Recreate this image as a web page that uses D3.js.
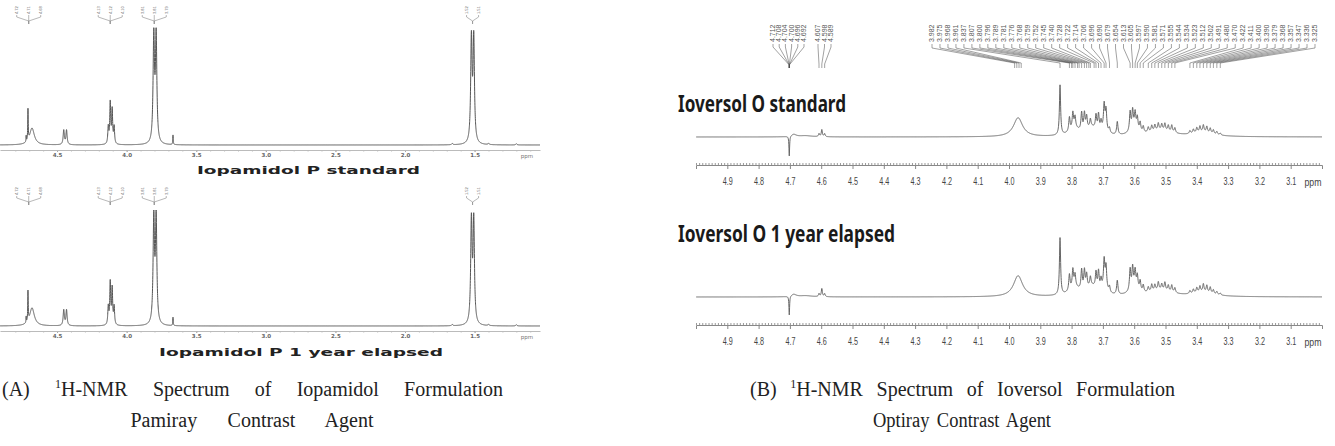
<!DOCTYPE html>
<html lang="en">
<head>
<meta charset="UTF-8">
<title>1H-NMR Spectra of Contrast Agent Formulations</title>
<script src="https://d3js.org/d3.v7.min.js"></script>
<style>
  body { margin: 0; background: #fff; }
  svg { display: block; }
  .cap { font-family: "Liberation Serif", serif; font-size: 20px; fill: #222; }
</style>
</head>
<body>
<div id="chart"></div>
<script>
// ---- Panel A: Iopamidol (Pamiray) - peak shift (ppm), height (% of tallest), width (ppm)
const iopShift = [4.722, 4.709, 4.680, 4.452, 4.432, 4.132, 4.118, 4.104, 4.090, 3.805, 3.788, 3.667, 1.660, 1.523, 1.506, 1.400, 1.200];
const iopStdH  = [5, 26, 14, 12, 12, 14, 34, 28, 14, 88, 88, 8, 1, 86, 86, 1, 1];
const iopAgedH = [5, 25, 15, 13, 13, 15, 35, 30, 15, 87, 87, 7, 1, 85, 85, 1, 1];
const iopWidth = [0.003, 0.004, 0.04, 0.01, 0.01, 0.008, 0.008, 0.008, 0.008, 0.012, 0.012, 0.004, 0.01, 0.012, 0.012, 0.01, 0.01];
const iopPicks = [[4.722, 4.709, 4.680], [4.132, 4.118, 4.104], [3.812, 3.805, 3.788], [1.523, 1.506]];
const aTicks = [4.5, 4.0, 3.5, 3.0, 2.5, 2.0, 1.5];
const aTitles = ["Iopamidol P standard", "Iopamidol P 1 year elapsed"];

// ---- Panel B: Ioversol (Optiray) - peak shift (ppm), height (px), width (ppm)
const ioShift = [4.702, 4.688, 4.650, 4.607, 4.598, 4.589,
  3.971, 3.837,
  3.790, 3.735, 3.695, 3.600, 3.515, 3.380,
  3.807, 3.796, 3.789, 3.768, 3.759, 3.752, 3.740, 3.722, 3.714, 3.706, 3.696, 3.690, 3.679, 3.654,
  3.613, 3.605, 3.597, 3.590, 3.581, 3.571,
  3.555, 3.544, 3.534, 3.523, 3.512, 3.502, 3.491, 3.480, 3.470,
  3.422, 3.411, 3.400, 3.390, 3.379, 3.368, 3.357, 3.347, 3.336, 3.325];
const ioStdH = [-20, 2.5, 1.2, 3, 7, 3,
  19, 50,
  7, 8, 5, 7, 6, 4,
  14, 16, 11, 18, 17, 13, 8, 14, 16, 9, 24, 20, 5, 13,
  19, 18, 15, 12, 9, 6,
  5, 6, 6, 7, 6, 7, 6, 7, 5,
  3, 4, 5, 6, 7, 6, 5, 4, 3, 2];
const ioAgedH = [-19, 2.5, 1.2, 3, 8, 3,
  21, 57,
  8, 9, 6, 8, 6, 4,
  16, 18, 12, 20, 19, 14, 9, 16, 18, 10, 27, 22, 6, 14,
  21, 20, 16, 13, 10, 7,
  5, 7, 6, 8, 6, 8, 6, 7, 5,
  3, 4, 5, 6, 8, 7, 6, 4, 3, 2];
const ioWidth = [0.0025, 0.02, 0.05, 0.004, 0.004, 0.004,
  0.035, 0.0045,
  0.04, 0.04, 0.02, 0.03, 0.09, 0.08,
  0.005, 0.005, 0.005, 0.005, 0.005, 0.005, 0.005, 0.005, 0.005, 0.005, 0.005, 0.005, 0.005, 0.005,
  0.005, 0.005, 0.005, 0.005, 0.005, 0.005,
  0.005, 0.005, 0.005, 0.005, 0.005, 0.005, 0.005, 0.005, 0.005,
  0.005, 0.005, 0.005, 0.005, 0.005, 0.005, 0.005, 0.005, 0.005, 0.005];
const ioPicksLeft = [4.712, 4.708, 4.704, 4.700, 4.696, 4.692];
const ioPicksMid = [4.607, 4.598, 4.589];
const ioPicksRight = [3.982, 3.975, 3.968, 3.961, 3.837, 3.807, 3.800, 3.796, 3.789, 3.781, 3.776, 3.768,
  3.759, 3.752, 3.745, 3.740, 3.728, 3.722, 3.714, 3.706, 3.696, 3.690, 3.679, 3.654, 3.613, 3.605,
  3.597, 3.590, 3.581, 3.571, 3.555, 3.544, 3.534, 3.523, 3.512, 3.502, 3.491, 3.480, 3.470, 3.422,
  3.411, 3.400, 3.390, 3.379, 3.368, 3.357, 3.347, 3.336, 3.325];
const bTicks = [4.9, 4.8, 4.7, 4.6, 4.5, 4.4, 4.3, 4.2, 4.1, 4.0, 3.9, 3.8, 3.7, 3.6, 3.5, 3.4, 3.3, 3.2, 3.1];
const bTitles = ["Ioversol O standard", "Ioversol O 1 year elapsed"];

const captions = [
  ["(A) ", "H-NMR Spectrum of Iopamidol Formulation", "Pamiray Contrast Agent"],
  ["(B) ", "H-NMR Spectrum of Ioversol Formulation", "Optiray Contrast Agent"]
];

const width = 1335, height = 446;
const svg = d3.select("#chart").append("svg")
  .attr("width", width).attr("height", height);

// lorentzian line shape sampled over the axis range
function spectrum(shift, heights, widths, lo, hi, step) {
  return d3.range(lo, hi, step).map(p => {
    let v = 0;
    for (let i = 0; i < shift.length; i++) {
      const t = (p - shift[i]) / (widths[i] / 2);
      v += heights[i] / (1 + t * t);
    }
    return [p, v];
  });
}

// ================= Panel A =================
const xA = d3.scaleLinear().domain([4.91, 1.03]).range([0, 540]);
const panelsA = [
  { h: iopStdH, base: 145, title: aTitles[0], tx: 197, tw: 223, ty: 174 },
  { h: iopAgedH, base: 326, title: aTitles[1], tx: 159, tw: 284, ty: 356 }
];

panelsA.forEach(p => {
  const y = d3.scaleLinear().domain([0, 100]).range([p.base, p.base - 120]);
  const g = svg.append("g");
  const off = p.base - 145;

  // axis under the trace
  const axis = d3.axisBottom(xA).tickValues(aTicks).tickSize(2).tickSizeOuter(0)
    .tickFormat(d3.format(".1f"));
  const ax = g.append("g").attr("transform", `translate(0,${p.base + 5})`).call(axis);
  ax.select(".domain").attr("stroke", "#bbb");
  ax.selectAll(".tick line").attr("stroke", "#999");
  ax.selectAll(".tick text").attr("font-size", 5.5).attr("font-weight", "bold")
    .attr("font-family", "DejaVu Sans, sans-serif").attr("fill", "#666").attr("dy", "0.4em");
  const minor = d3.axisBottom(xA).tickValues(d3.range(1.1, 4.9, 0.1)).tickSize(1.5).tickFormat("");
  g.append("g").attr("transform", `translate(0,${p.base + 5})`).call(minor)
    .call(s => s.select(".domain").remove())
    .selectAll("line").attr("stroke", "#bbb");
  g.append("text").attr("x", 527).attr("y", p.base + 13).attr("text-anchor", "middle")
    .attr("font-size", 5.5).attr("font-family", "DejaVu Sans, sans-serif").attr("fill", "#777")
    .text("ppm");

  // trace
  const data = spectrum(iopShift, p.h, iopWidth, 1.03, 4.91, 0.0005);
  g.append("path").datum(data)
    .attr("d", d3.line().x(d => xA(d[0])).y(d => y(d[1])))
    .attr("fill", "none").attr("stroke", "#555").attr("stroke-width", 1);

  // peak pick labels
  iopPicks.forEach(grp => {
    const cx = xA(d3.mean(grp));
    grp.forEach((s, i) => {
      const colX = cx + (i - (grp.length - 1) / 2) * 12;
      g.append("text")
        .attr("transform", `translate(${colX + 1.5},${14 + off}) rotate(-90)`)
        .attr("font-size", 4).attr("font-family", "Liberation Sans, sans-serif").attr("fill", "#666")
        .text(s.toFixed(2));
      g.append("path")
        .attr("d", d3.line()([[colX, 15 + off], [colX, 17 + off], [cx, 21 + off], [cx, 24 + off]]))
        .attr("fill", "none").attr("stroke", "#888").attr("stroke-width", 0.6);
    });
  });

  g.append("text").attr("x", p.tx).attr("y", p.ty)
    .attr("textLength", p.tw).attr("lengthAdjust", "spacingAndGlyphs")
    .attr("font-family", "DejaVu Sans, sans-serif").attr("font-weight", "bold")
    .attr("font-size", 11).attr("fill", "#222").text(p.title);
});

// ================= Panel B =================
const xB = d3.scaleLinear().domain([5.0, 3.0]).range([696, 1322]);
const panelsB = [
  { h: ioStdH, base: 137, axisY: 165, title: bTitles[0], tw: 168, ty: 112 },
  { h: ioAgedH, base: 297, axisY: 325, title: bTitles[1], tw: 217, ty: 242 }
];

panelsB.forEach(p => {
  const y = d3.scaleLinear().domain([0, 60]).range([p.base, p.base - 60]);
  const g = svg.append("g");

  g.append("text").attr("x", 678).attr("y", p.ty)
    .attr("textLength", p.tw).attr("lengthAdjust", "spacingAndGlyphs")
    .attr("font-family", "Noto Sans, sans-serif").attr("font-weight", "bold")
    .attr("font-size", 23).attr("fill", "#1a1a1a").text(p.title);

  const data = spectrum(ioShift, p.h, ioWidth, 3.0, 5.0, 0.0005);
  g.append("path").datum(data)
    .attr("d", d3.line().x(d => xB(d[0])).y(d => y(d[1])))
    .attr("fill", "none").attr("stroke", "#666").attr("stroke-width", 1);

  const axis = d3.axisBottom(xB).tickValues(bTicks).tickSize(4).tickSizeOuter(4)
    .tickFormat(d3.format(".1f"));
  const ax = g.append("g").attr("transform", `translate(0,${p.axisY})`).call(axis);
  ax.select(".domain").attr("stroke", "#888");
  ax.selectAll(".tick line").attr("stroke", "#888");
  ax.selectAll(".tick text").attr("font-size", 11).attr("fill", "#444")
    .attr("font-family", "Liberation Sans, sans-serif").attr("dy", "1.2em")
    .attr("textLength", 10).attr("lengthAdjust", "spacingAndGlyphs");
  const minor = d3.axisTop(xB).tickValues(d3.range(3.01, 5.0, 0.01)).tickSize(2).tickFormat("");
  g.append("g").attr("transform", `translate(0,${p.axisY})`).call(minor)
    .call(s => s.select(".domain").remove())
    .selectAll("line").attr("stroke", "#999");
  g.append("text").attr("x", 1313).attr("y", p.axisY + 21).attr("text-anchor", "middle")
    .attr("font-size", 11).attr("fill", "#444")
    .attr("textLength", 17).attr("lengthAdjust", "spacingAndGlyphs")
    .attr("font-family", "Liberation Sans, sans-serif").text("ppm");
});

// peak pick labels over the standard spectrum
function pickColumn(g, colX, s, path) {
  g.append("text")
    .attr("transform", `translate(${colX + 2},42) rotate(-90)`)
    .attr("font-size", 7).attr("font-family", "Liberation Sans, sans-serif").attr("fill", "#555")
    .text(s.toFixed(3));
  g.append("path").attr("d", d3.line()(path))
    .attr("fill", "none").attr("stroke", "#444").attr("stroke-width", 0.5);
}
const picks = svg.append("g");
const colL = d3.scalePoint().domain(d3.range(ioPicksLeft.length)).range([773, 804]);
ioPicksLeft.forEach((s, i) => {
  const cx = colL(i), tx = xB(4.702);
  pickColumn(picks, cx, s, [[cx, 44], [cx, 47], [tx, 65], [tx, 68]]);
});
const colM = d3.scalePoint().domain(d3.range(ioPicksMid.length)).range([818, 831]);
ioPicksMid.forEach((s, i) => {
  const cx = colM(i), tx = xB(s);
  pickColumn(picks, cx, s, [[cx, 44], [cx, 47], [tx, 64], [tx, 68]]);
});
const colR = d3.scalePoint().domain(d3.range(ioPicksRight.length)).range([932, 1315]);
ioPicksRight.forEach((s, i) => {
  const cx = colR(i), tx = xB(s);
  pickColumn(picks, cx, s, [[cx, 44], [cx, 48], [tx, 63], [tx, 68]]);
});

// ================= Captions =================
// stretch word gaps to the measured line width; squeeze glyphs if the line is too long
function fitLine(t, target, gaps) {
  const len = t.node().getComputedTextLength();
  const ws = (target - len) / gaps;
  if (ws >= 3) t.style("word-spacing", ws + "px");
  else t.style("word-spacing", "3px").attr("textLength", target).attr("lengthAdjust", "spacingAndGlyphs");
}
const capPos = [
  { x1: 2, w1: 501, cx2: 252, w2: 243 },
  { x1: 750, w1: 425, cx2: 962, w2: 178 }
];
captions.forEach((c, i) => {
  const pos = capPos[i];
  const t1 = svg.append("text").attr("class", "cap").attr("x", pos.x1).attr("y", 396);
  t1.append("tspan").text(c[0]);
  t1.append("tspan").attr("font-size", 12).attr("dy", -8).text("1");
  t1.append("tspan").attr("dy", 8).text(c[1]);
  fitLine(t1, pos.w1, (c[0] + c[1]).trim().split(" ").length - 1);

  const t2 = svg.append("text").attr("class", "cap").attr("x", pos.cx2).attr("y", 427)
    .attr("text-anchor", "middle").text(c[2]);
  fitLine(t2, pos.w2, c[2].split(" ").length - 1);
});
</script>
</body>
</html>
